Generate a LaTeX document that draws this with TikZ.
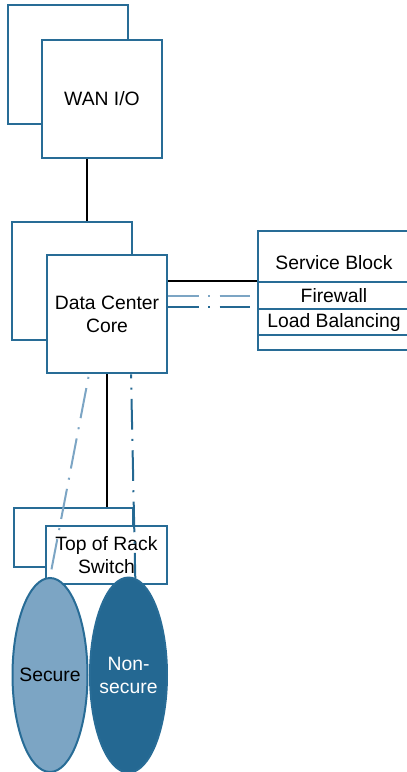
\documentclass[tikz,border=0pt]{standalone}
\definecolor{edgeblue}{RGB}{40,108,150}
\definecolor{paleblue}{RGB}{124,165,196}
\definecolor{deepblue}{RGB}{36,104,146}
\usepackage{fontspec}
\setmainfont{Liberation Sans}
\usepackage{tikz}
\usetikzlibrary{shapes.geometric, positioning}
\tikzset{
  unit/.style={rectangle, draw=edgeblue, line width=1.9pt, fill=white,
    inner sep=0pt, align=center, minimum width=90pt, minimum height=88.5pt,
    font=\fontsize{14.5}{17.25}\selectfont},
  svcrow/.style={rectangle, draw=edgeblue, line width=1.9pt, fill=white,
    inner sep=0pt, minimum width=114pt, font=\fontsize{14.5}{17.25}\selectfont},
  zone/.style={ellipse, draw=edgeblue, line width=1.5pt, inner sep=0pt},
  zonetext/.style={align=center, font=\fontsize{14.5}{17.25}\selectfont},
  link/.style={line width=1.5pt, black},
  tunnel/.style={line width=1.5pt, dash pattern=on 23pt off 7pt on 1.5pt off 7pt},
}
\begin{document}
\begin{tikzpicture}[x=0.75pt, y=-0.75pt]
  \useasboundingbox (0,0) rectangle (407,772);
  \node[unit, minimum height=89.25pt] (wanback) at (68,64.5) {};
  \node[unit] (wan) at (102,99) {WAN I/O};
  \node[unit] (dcback) at (72,281) {};
  \node[unit] (dc) at (107,314) {Data Center\\Core};
  \node[svcrow, minimum height=89.25pt] (svc) at (334,290.5) {};
  \node[svcrow, minimum height=20.25pt] (fw) at (334,295.5) {Firewall};
  \node[svcrow, minimum height=19.5pt] (lb) at (334,322) {Load Balancing};
  \node[font=\fontsize{14.5}{17.25}\selectfont] (svctitle) at (334,263) {Service Block};
  \node[unit, minimum width=89.25pt, minimum height=44.25pt] (torback) at (73.5,537.5) {};
  \node[unit, minimum width=90.75pt, minimum height=43.5pt] (tor) at (106.5,555) {Top of Rack\\Switch};
  \node[zone, fill=paleblue, minimum width=56.25pt, minimum height=145.5pt,
    label={[zonetext]center:Secure}] (secure) at (50,675) {};
  \node[zone, fill=deepblue, minimum width=57.75pt, minimum height=146.25pt,
    label={[zonetext, text=white]center:Non-\\secure}] (nonsecure) at (128.5,675) {};
  \draw[link] (wan.south -| 87,0) -- (dcback.north -| 87,0);
  \draw[link] (dc.east |- fw.north west) -- (fw.north west);
  \draw[link] (dc.south) -- (dc.south |- torback.north);
  \draw[tunnel, paleblue] (fw.west -| dc.east) -- (fw.west);
  \draw[tunnel, deepblue] ([yshift=0.6pt]lb.north west -| dc.east) -- ([yshift=0.6pt]lb.north west);
  \draw[tunnel, paleblue, dash phase=28pt] (dc.south -| 89,0) -- (secure.north);
  \draw[tunnel, deepblue, dash phase=20pt] (dc.south -| 131,0) -- (nonsecure.86);
\end{tikzpicture}
\end{document}
